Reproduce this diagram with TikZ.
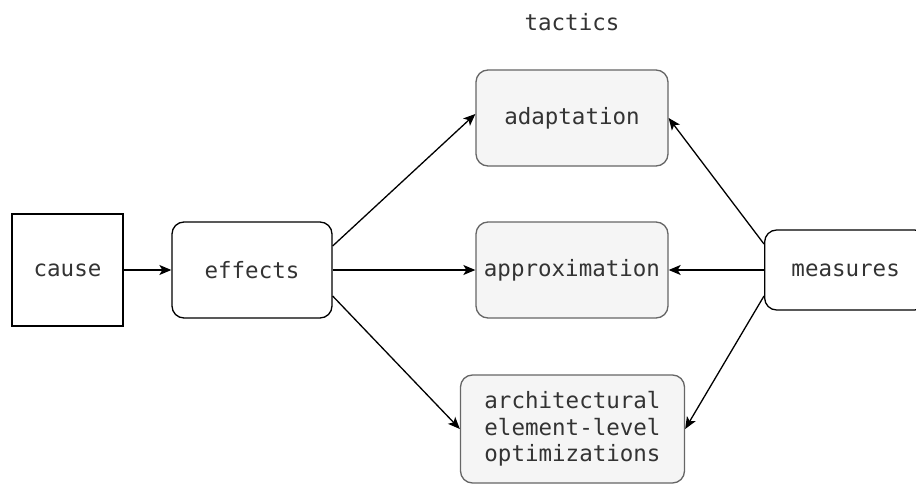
\documentclass[tikz,border=0pt]{standalone}
\usepackage{fontspec}
\setmonofont{DejaVu Sans Mono}
\usetikzlibrary{arrows.meta,calc}
\definecolor{txt}{HTML}{333333}
\definecolor{tacfill}{HTML}{F5F5F5}
\definecolor{tacline}{HTML}{666666}
\begin{document}
\begin{tikzpicture}[x=1pt,y=-1pt,
  every node/.style={font=\ttfamily\fontsize{22.5}{26.5}\selectfont,text=txt,align=center,inner sep=0pt},
  plainbox/.style={draw=black,line width=1.3pt},
  roundbox/.style={draw=black,line width=1.3pt,rounded corners=12pt},
  tacticbox/.style={draw=tacline,fill=tacfill,line width=1.3pt,rounded corners=12pt},
  conn/.style={line width=1.3pt,-{Stealth[length=12pt,width=10pt,inset=3pt]}}]
\useasboundingbox (0,0) rectangle (916,487);
% sources and tactics
\node[plainbox,minimum width=111pt,minimum height=112pt] (cause) at (67.5,270) {cause};
\node[roundbox,minimum width=160pt,minimum height=96pt] (effects) at (252,270) {effects};
\node[tacticbox,minimum width=192pt,minimum height=96pt] (adapt) at (572,118) {adaptation};
\node[tacticbox,minimum width=192pt,minimum height=96pt] (approx) at (572,270) {approximation};
\node[tacticbox,minimum width=224pt,minimum height=108pt] (arch) at (572.5,429) {architectural\\element-level\\optimizations};
\node[roundbox,minimum width=162pt,minimum height=80pt,anchor=west] (measures) at (764,270) {measures};
\node (tactics) at (572,22) {tactics};
% connectors
\draw[conn] (cause.east) -- (effects.west);
\draw[conn] (effects.east) -- (approx.west);
\draw[conn] ([yshift=24pt]effects.east) -- ([yshift=4pt]adapt.west);
\draw[conn] ([yshift=-26pt]effects.east) -- (arch.west);
\draw[conn] (measures.west) -- (approx.east);
\draw[conn] ([yshift=26pt]measures.west) -- (adapt.east);
\draw[conn] ([yshift=-26pt]measures.west) -- (arch.east);
\end{tikzpicture}
\end{document}
